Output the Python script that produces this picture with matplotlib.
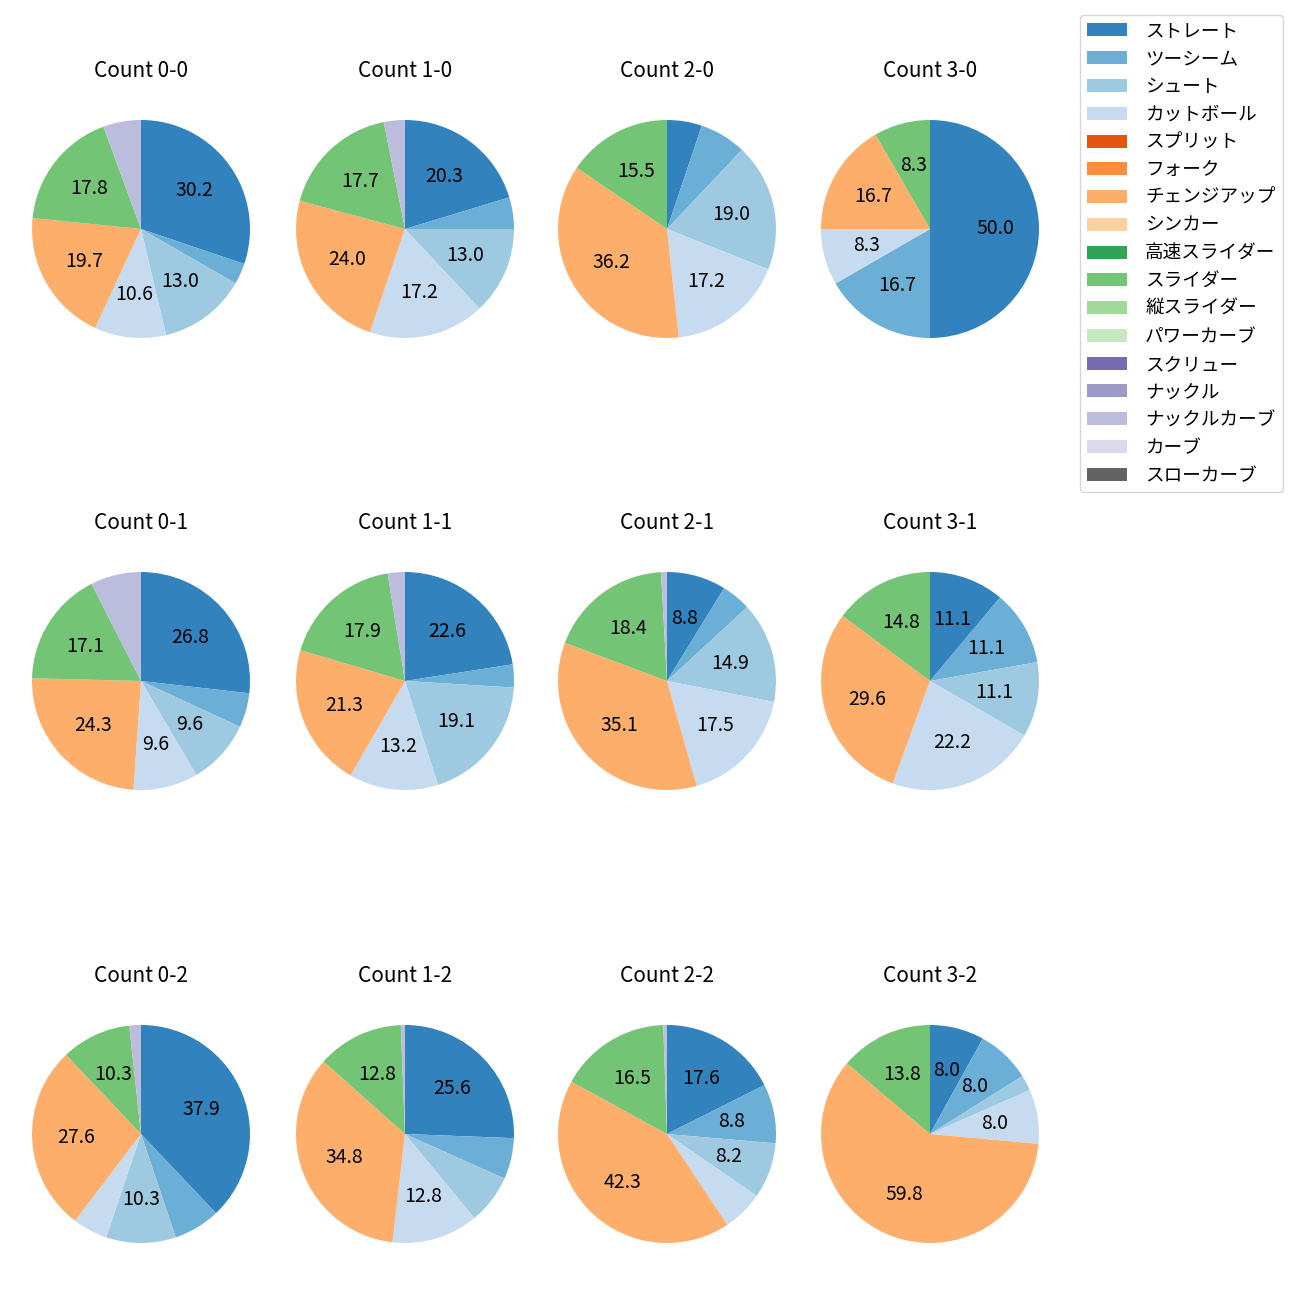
import matplotlib
matplotlib.use("Agg")
import matplotlib.pyplot as plt
from matplotlib.patches import Patch

plt.rcParams["font.family"] = ["Noto Sans CJK JP", "DejaVu Sans"]

pitch_types = [
    "ストレート", "ツーシーム", "シュート", "カットボール", "スプリット", "フォーク",
    "チェンジアップ", "シンカー", "高速スライダー", "スライダー", "縦スライダー",
    "パワーカーブ", "スクリュー", "ナックル", "ナックルカーブ", "カーブ", "スローカーブ",
]
pitch_colors = [
    "#3182bd", "#6baed6", "#9ecae1", "#c6dbef", "#e6550d", "#fd8d3c",
    "#fdae6b", "#fdd0a2", "#31a354", "#74c476", "#a1d99b", "#c7e9c0",
    "#756bb1", "#9e9ac8", "#bcbddc", "#dadaeb", "#636363",
]

# share per pitch type, same order as pitch_types
count_0_0 = [30.2, 3.1, 13.0, 10.6, 0, 0, 19.7, 0, 0, 17.8, 0, 0, 0, 0, 5.6, 0, 0]
count_1_0 = [39, 9, 25, 33, 0, 0, 46, 0, 0, 34, 0, 0, 0, 0, 6, 0, 0]
count_2_0 = [3, 4, 11, 10, 0, 0, 21, 0, 0, 9, 0, 0, 0, 0, 0, 0, 0]
count_3_0 = [6, 2, 0, 1, 0, 0, 2, 0, 0, 1, 0, 0, 0, 0, 0, 0, 0]
count_0_1 = [26.8, 5.1, 9.6, 9.6, 0, 0, 24.3, 0, 0, 17.1, 0, 0, 0, 0, 7.5, 0, 0]
count_1_1 = [53, 8, 45, 31, 0, 0, 50, 0, 0, 42, 0, 0, 0, 0, 6, 0, 0]
count_2_1 = [10, 5, 17, 20, 0, 0, 40, 0, 0, 21, 0, 0, 0, 0, 1, 0, 0]
count_3_1 = [3, 3, 3, 6, 0, 0, 8, 0, 0, 4, 0, 0, 0, 0, 0, 0, 0]
count_0_2 = [22, 4, 6, 3, 0, 0, 16, 0, 0, 6, 0, 0, 0, 0, 1, 0, 0]
count_1_2 = [42, 10, 12, 21, 0, 0, 57, 0, 0, 21, 0, 0, 0, 0, 1, 0, 0]
count_2_2 = [32, 16, 15, 11, 0, 0, 77, 0, 0, 30, 0, 0, 0, 0, 1, 0, 0]
count_3_2 = [7, 7, 2, 7, 0, 0, 52, 0, 0, 12, 0, 0, 0, 0, 0, 0, 0]

grid = [
    [("Count 0-0", count_0_0), ("Count 1-0", count_1_0), ("Count 2-0", count_2_0), ("Count 3-0", count_3_0)],
    [("Count 0-1", count_0_1), ("Count 1-1", count_1_1), ("Count 2-1", count_2_1), ("Count 3-1", count_3_1)],
    [("Count 0-2", count_0_2), ("Count 1-2", count_1_2), ("Count 2-2", count_2_2), ("Count 3-2", count_3_2)],
]

W = H = 1300
col_x = [141, 405, 667, 930]
row_y = [229, 681, 1134]
radius_px = 109

fig = plt.figure(figsize=(13, 13), dpi=100)

for r, row in enumerate(grid):
    for c, (title, values) in enumerate(row):
        cx, cy = col_x[c], row_y[r]
        ax = fig.add_axes([(cx - radius_px) / W, 1 - (cy + radius_px) / H,
                           2 * radius_px / W, 2 * radius_px / H])
        vals = [v for v in values if v > 0]
        cols = [pitch_colors[i] for i, v in enumerate(values) if v > 0]
        ax.pie(vals, colors=cols, startangle=90, counterclock=False,
               autopct=lambda p: f"{p:.1f}" if p >= 7.8 else "",
               textprops={"fontsize": 14})
        ax.set_xlim(-1, 1)
        ax.set_ylim(-1, 1)
        ax.set_title(title, fontsize=15, pad=31)

handles = [Patch(facecolor=col, label=name) for name, col in zip(pitch_types, pitch_colors)]
fig.legend(handles=handles, loc="upper right", bbox_to_anchor=(1283 / W, 1 - 15 / H),
           borderaxespad=0, fontsize=13.4, handlelength=2.1, handletextpad=1.0,
           labelspacing=0.525)

fig.savefig("out.png", dpi=100)
